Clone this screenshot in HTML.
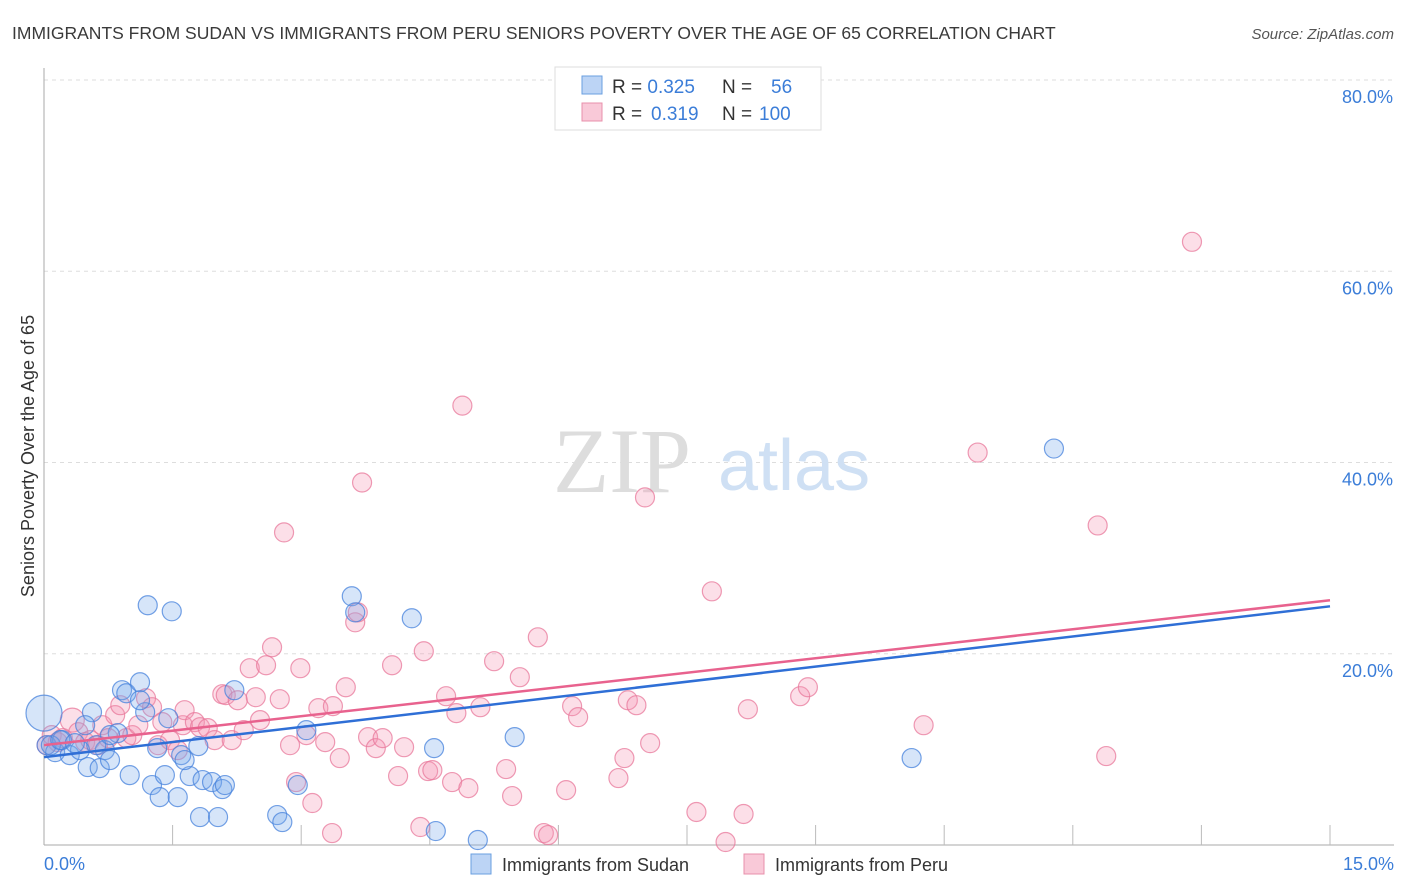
<!DOCTYPE html>
<html><head><meta charset="utf-8"><style>
body{margin:0;background:#fff;font-family:"Liberation Sans",sans-serif}
#c{position:absolute;left:0;top:0}
</style></head><body>
<svg id="c" width="1406" height="892" font-family="Liberation Sans, sans-serif">
<text x="12" y="39" font-size="17.5" fill="#3a3a3a">IMMIGRANTS FROM SUDAN VS IMMIGRANTS FROM PERU SENIORS POVERTY OVER THE AGE OF 65 CORRELATION CHART</text>
<text x="1394" y="39" font-size="15" font-style="italic" fill="#555" text-anchor="end">Source: ZipAtlas.com</text>
<g id="grid"></g>
<g id="axes"></g>
<text x="553" y="492" font-size="92" font-family="Liberation Serif, serif" fill="#ddd">ZIP</text>
<text x="718" y="490" font-size="72" fill="#cfe0f4">atlas</text>
<text transform="translate(34,456) rotate(-90)" font-size="18" fill="#333" text-anchor="middle">Seniors Poverty Over the Age of 65</text>
<g id="pts"></g>
<g id="lines"></g>
<g>
<rect x="555" y="67" width="266" height="63" fill="#fff" stroke="#ddd"/>
<rect x="582" y="76" width="20" height="18" fill="#bcd4f5" stroke="#6a9fe0"/>
<rect x="582" y="103" width="20" height="18" fill="#f9c9d8" stroke="#e890ab"/>
<text x="612" y="93" font-size="19" fill="#333">R = <tspan fill="#3b7dd8">0.325</tspan><tspan x="722">N = </tspan><tspan x="771" fill="#3b7dd8">56</tspan></text>
<text x="612" y="120" font-size="19" fill="#333">R = <tspan x="651" fill="#3b7dd8">0.319</tspan><tspan x="722">N = </tspan><tspan x="759" fill="#3b7dd8">100</tspan></text>
</g>
<g>
<rect x="471" y="854" width="20" height="20" fill="#bcd4f5" stroke="#6a9fe0"/>
<text x="502" y="871" font-size="18" fill="#333">Immigrants from Sudan</text>
<rect x="744" y="854" width="20" height="20" fill="#f9c9d8" stroke="#e890ab"/>
<text x="775" y="871" font-size="18" fill="#333">Immigrants from Peru</text>
</g>
</svg>
<script>
const xTicks=[0,1.5,3,4.5,6,7.5,9,10.5,12,13.5,15];
const yTicks=[20,40,60,80];
const yTickLabels=["20.0%","40.0%","60.0%","80.0%"];
const xEndLabels=["0.0%","15.0%"];
const sudanX=[0,.03,.13,.21,.30,.42,.56,.48,.51,.65,.71,.77,.86,.91,.96,1.12,1.00,1.18,1.21,1.26,1.35,1.32,1.41,1.45,1.49,1.56,1.60,1.70,1.80,1.82,1.85,1.96,2.03,2.08,2.11,2.22,2.72,2.78,2.96,3.06,3.59,3.63,4.29,4.55,4.57,5.06,5.49,10.12,11.78,.08,.19,.36,.61,.77,1.64,1.12];
const sudanY=[13.79,10.44,9.71,10.97,9.40,9.92,13.89,12.53,8.15,8.04,9.92,8.88,11.70,16.19,15.87,17.02,7.31,13.89,25.07,6.27,5.01,10.13,7.31,13.26,24.44,5.01,9.40,7.21,10.34,2.92,6.79,6.58,2.92,5.85,6.27,16.19,3.13,2.40,6.27,12.01,26.01,24.33,23.71,10.13,1.46,0.52,11.28,9.09,41.46,10.44,10.97,10.65,10.44,11.49,8.88,15.14];
const peruX=[.03,.09,.16,.22,.33,.40,.48,.54,.63,.68,.75,.83,.89,.96,1.03,1.10,1.19,1.26,1.33,1.38,1.47,1.56,1.62,1.64,1.76,1.82,1.91,1.99,2.08,2.12,2.19,2.26,2.33,2.40,2.47,2.52,2.59,2.66,2.75,2.80,2.87,2.94,2.99,3.06,3.13,3.20,3.28,3.37,3.45,3.52,3.36,3.63,3.66,3.71,3.78,3.87,3.95,4.06,4.13,4.20,4.39,4.43,4.48,4.53,4.69,4.76,4.81,4.88,4.95,5.09,5.25,5.39,5.46,5.55,5.76,5.83,5.88,6.09,6.16,6.23,6.70,6.77,6.81,6.91,7.01,7.07,7.61,7.79,7.95,8.16,8.21,8.82,8.91,10.26,10.89,12.29,12.39,13.39];
const peruY=[10.44,11.49,10.76,11.18,13.06,11.80,10.76,10.97,10.44,12.53,11.18,13.58,14.62,11.18,11.49,12.53,15.35,14.41,10.44,12.85,10.97,9.92,12.53,14.10,12.85,12.32,12.22,10.97,15.77,15.67,10.97,15.14,12.01,18.49,15.46,13.06,18.80,20.68,15.25,32.69,10.44,6.58,18.49,11.49,4.39,14.31,10.76,14.52,9.09,16.50,1.25,23.29,24.33,37.91,11.28,10.13,11.18,18.80,7.21,10.23,1.88,20.26,7.73,7.83,15.56,6.58,13.79,45.95,5.95,14.41,19.22,7.94,5.12,17.55,21.72,1.25,1.04,5.74,14.52,13.37,7.00,9.09,15.14,14.62,36.35,10.65,3.45,26.53,0.31,3.24,14.20,15.56,16.50,12.53,41.04,33.42,9.30,63.08];
const sudanTrend=[9.19,24.96];
const peruTrend=[10.44,25.59];
const X=v=>44+v/15*1286, Y=v=>845-v/80*765;
const NS="http://www.w3.org/2000/svg";
function mk(t,a,p){const e=document.createElementNS(NS,t);for(const k in a)e.setAttribute(k,a[k]);p.appendChild(e);return e;}
const grid=document.getElementById('grid'),axes=document.getElementById('axes'),pts=document.getElementById('pts'),lines=document.getElementById('lines');
yTicks.forEach((t,i)=>{
 const l=mk('line',{x1:44,x2:1394,y1:Y(t),y2:Y(t),stroke:'#ddd','stroke-dasharray':'4 4'},grid);
 
 
 const tx=mk('text',{x:1393,y:Y(t)+23,'font-size':18,fill:'#3b7dd8','text-anchor':'end'},axes);
 tx.textContent=yTickLabels[i];
 
 
});
mk('line',{x1:44,x2:44,y1:68,y2:845,stroke:'#aaa'},axes);
mk('line',{x1:44,x2:1394,y1:845,y2:845,stroke:'#aaa'},axes);
xTicks.slice(1).forEach(t=>{
 const l=mk('line',{x1:X(t),x2:X(t),y1:825,y2:845,stroke:'#bbb'},axes);
 
 
});
const xl0=mk('text',{x:44,y:870,'font-size':18,fill:'#3b7dd8'},axes);xl0.textContent=xEndLabels[0];


const xl1=mk('text',{x:1394,y:870,'font-size':18,fill:'#3b7dd8','text-anchor':'end'},axes);xl1.textContent=xEndLabels[1];


peruX.forEach((x,i)=>{
 const c=mk('circle',{cx:X(x),cy:Y(peruY[i]),r:i==4?12:9.5,fill:'rgba(244,150,180,0.3)',stroke:'rgba(232,120,155,0.75)','stroke-width':1.2},pts);
 
 
});
sudanX.forEach((x,i)=>{
 const c=mk('circle',{cx:X(x),cy:Y(sudanY[i]),r:i==0?18:9.5,fill:'rgba(120,170,235,0.3)',stroke:'rgba(70,130,220,0.75)','stroke-width':1.2},pts);
 
 
});
const lb=mk('line',{x1:X(0),y1:Y(sudanTrend[0]),x2:X(15),y2:Y(sudanTrend[1]),stroke:'#2f6fd6','stroke-width':2.5},lines);


const lp=mk('line',{x1:X(0),y1:Y(peruTrend[0]),x2:X(15),y2:Y(peruTrend[1]),stroke:'#e8628e','stroke-width':2.5},lines);


</script>
</body></html>
